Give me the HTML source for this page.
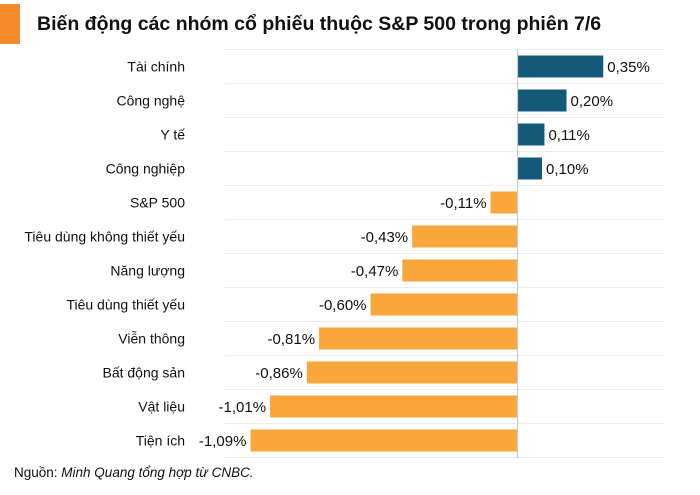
<!DOCTYPE html>
<html><head><meta charset="utf-8">
<style>
body{margin:0;background:#fff;width:700px;height:490px;overflow:hidden;font-family:"Liberation Sans",sans-serif;}
</style></head>
<body>
<svg width="700" height="490" xmlns="http://www.w3.org/2000/svg">
<rect x="0" y="4" width="20" height="40" fill="#f58a2a"/>
<text x="37" y="30" font-size="19.5" font-weight="bold" fill="#111">Biến động các nhóm cổ phiếu thuộc S&amp;P 500 trong phiên 7/6</text>
<g id="grid"></g>
<g id="bars"></g>
<line x1="517.5" y1="50" x2="517.5" y2="458" stroke="#c8ccd2" stroke-width="1.2"/>
<text x="14" y="477" font-size="13.5" fill="#111">Nguồn: <tspan font-style="italic">Minh Quang tổng hợp từ CNBC.</tspan></text>
</svg>
<script>
const categories=["Tài chính","Công nghệ","Y tế","Công nghiệp","S&P 500","Tiêu dùng không thiết yếu","Năng lượng","Tiêu dùng thiết yếu","Viễn thông","Bất động sản","Vật liệu","Tiện ích"];
const values=[0.35,0.20,0.11,0.10,-0.11,-0.43,-0.47,-0.60,-0.81,-0.86,-1.01,-1.09];
const valueLabels=["0,35%","0,20%","0,11%","0,10%","-0,11%","-0,43%","-0,47%","-0,60%","-0,81%","-0,86%","-1,01%","-1,09%"];
const NS="http://www.w3.org/2000/svg";
const x0=517.5, scaleK=245, plotTop=49.5, rowH=34, barH=22;
const xScale=v=>x0+v*scaleK;
const yScale=i=>plotTop+i*rowH;
const grid=document.getElementById('grid'), bars=document.getElementById('bars');
for(let i=0;i<=categories.length;i++){
  const l=document.createElementNS(NS,'line');
  l.setAttribute('x1',225);l.setAttribute('x2',664);
  l.setAttribute('y1',yScale(i));l.setAttribute('y2',yScale(i));
  l.setAttribute('stroke','#ececec');l.setAttribute('stroke-width','1');
  
  
  grid.appendChild(l);
}
categories.forEach((c,i)=>{
  const v=values[i], cy=yScale(i)+rowH/2;
  const t=document.createElementNS(NS,'text');
  t.setAttribute('x',185);t.setAttribute('y',cy+5);
  t.setAttribute('text-anchor','end');t.setAttribute('font-size','14');t.setAttribute('fill','#111');
  t.textContent=c;
  
  
  bars.appendChild(t);
  const r=document.createElementNS(NS,'rect');
  const xa=xScale(Math.min(0,v)), xb=xScale(Math.max(0,v));
  r.setAttribute('x',xa);r.setAttribute('width',xb-xa);
  r.setAttribute('y',cy-barH/2);r.setAttribute('height',barH);
  r.setAttribute('fill',v>=0?'#145a78':'#f9a63a');
  
  
  bars.appendChild(r);
  const vl=document.createElementNS(NS,'text');
  vl.setAttribute('x',v>=0?xb+4:xa-4);vl.setAttribute('y',cy+5.5);
  vl.setAttribute('text-anchor',v>=0?'start':'end');vl.setAttribute('font-size','15');vl.setAttribute('fill','#111');
  vl.textContent=valueLabels[i];
  
  
  bars.appendChild(vl);
});
</script>
</body></html>
